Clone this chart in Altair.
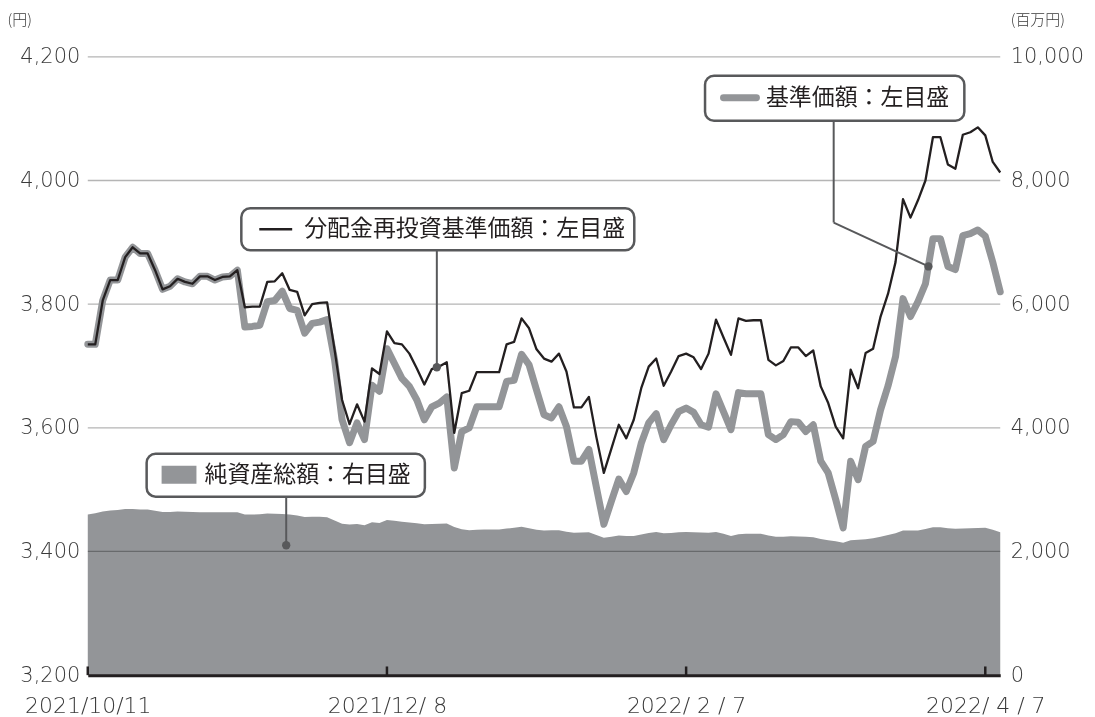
import altair as alt
import pandas as pd

# ---------------- data ----------------
nav_reinvested = [
    3735, 3735, 3806, 3839, 3839, 3876, 3892, 3882, 3882, 3855,
    3824, 3829, 3841, 3836, 3833, 3845, 3845, 3839, 3844, 3845,
    3855, 3795, 3796, 3796, 3836, 3837, 3850, 3823, 3820, 3782,
    3800, 3802, 3803, 3726, 3645, 3606, 3638, 3610, 3696, 3687,
    3756, 3737, 3735, 3720, 3696, 3670, 3695, 3699, 3706, 3592,
    3656, 3660, 3690, 3690, 3690, 3690, 3735, 3739, 3777, 3761,
    3727, 3712, 3707, 3720, 3691, 3633, 3633, 3650, 3585, 3527,
    3566, 3605, 3583, 3613, 3664, 3699, 3712, 3668, 3691, 3716,
    3720, 3714, 3695, 3720, 3775, 3746, 3718, 3777, 3773, 3774,
    3774, 3710, 3701, 3708, 3730, 3730, 3716, 3725, 3667, 3640,
    3602, 3583, 3694, 3664, 3721, 3728, 3780, 3817, 3868, 3970,
    3940, 3968, 4000, 4070, 4070, 4026, 4019, 4074, 4078, 4086,
    4073, 4030, 4013,
]
nav = [
    3735, 3735, 3806, 3839, 3839, 3876, 3892, 3882, 3882, 3855,
    3824, 3829, 3841, 3836, 3833, 3845, 3845, 3839, 3844, 3845,
    3855, 3763, 3764, 3766, 3804, 3806, 3821, 3793, 3790, 3753,
    3769, 3771, 3775, 3710, 3613, 3576, 3608, 3581, 3669, 3659,
    3728, 3704, 3680, 3667, 3645, 3613, 3634, 3640, 3650, 3535,
    3594, 3600, 3634, 3634, 3634, 3634, 3675, 3677, 3719, 3702,
    3661, 3621, 3616, 3634, 3602, 3546, 3546, 3565, 3504, 3444,
    3481, 3517, 3497, 3527, 3575, 3608, 3623, 3581, 3605, 3626,
    3632, 3625, 3605, 3601, 3655, 3626, 3597, 3657, 3655, 3655,
    3655, 3589, 3581, 3589, 3610, 3609, 3594, 3605, 3546, 3527,
    3484, 3438, 3546, 3516, 3570, 3578, 3629, 3668, 3715, 3809,
    3780, 3804, 3833, 3906, 3906, 3861, 3856, 3911, 3914, 3920,
    3910, 3868, 3820,
]
net_assets = [
    2597, 2620, 2645, 2661, 2670, 2688, 2685, 2680, 2677, 2660,
    2640, 2640, 2645, 2642, 2640, 2636, 2636, 2636, 2636, 2636,
    2634, 2600, 2597, 2602, 2615, 2612, 2605, 2600, 2580, 2556,
    2560, 2562, 2555, 2500, 2450, 2435, 2446, 2425, 2472, 2462,
    2510, 2495, 2480, 2470, 2455, 2441, 2445, 2450, 2452, 2395,
    2360, 2344, 2350, 2355, 2355, 2355, 2370, 2385, 2398, 2375,
    2350, 2340, 2342, 2344, 2320, 2302, 2305, 2312, 2265, 2221,
    2240, 2258, 2250, 2250, 2275, 2300, 2315, 2295, 2300, 2312,
    2315, 2310, 2305, 2302, 2315, 2285, 2250, 2280, 2285, 2285,
    2285, 2260, 2237, 2240, 2247, 2244, 2240, 2230, 2200, 2180,
    2165, 2140, 2183, 2190, 2196, 2215, 2237, 2265, 2295, 2340,
    2340, 2340, 2365, 2390, 2392, 2375, 2366, 2372, 2376, 2380,
    2382, 2350, 2312,
]
day_index = list(range(len(nav)))

tick_positions = [0, 40, 80, 120]
tick_labels = ["2021/10/11", "2021/12/ 8", "2022/ 2 / 7", "2022/ 4 / 7"]
left_ticks = [3200, 3400, 3600, 3800, 4000, 4200]
right_ticks = [0, 2000, 4000, 6000, 8000, 10000]

label_reinv = "分配金再投資基準価額：左目盛"
label_nav = "基準価額：左目盛"
label_assets = "純資産総額：右目盛"

# ---------------- styling ----------------
FONT = "Noto Sans CJK JP"
NUMFONT = "DejaVu Sans"
DARK = "#231f20"
GRAY = "#939598"
BOXC = "#58595b"
LABEL = "#3a3a3a"
FS = 21
XFS = 22
BOXFS = 23
TFS = 15

# right axis (million yen, 0..10000) maps linearly onto left axis (3200..4200 yen)
L0, L1 = left_ticks[0], left_ticks[-1]
R0, R1 = right_ticks[0], right_ticks[-1]
ratio = (R1 - R0) / (L1 - L0)

df = pd.DataFrame({"i": day_index, "reinv": nav_reinvested, "nav": nav, "assets": net_assets})

x_scale = alt.Scale(domain=[0, 122], nice=False, zero=False)
yl = alt.Scale(domain=[L0, L1], nice=False, zero=False)

label_expr = " : ".join(
    f"datum.value == {p} ? '{t}'" for p, t in zip(tick_positions, tick_labels)
) + " : ''"

x_axis = alt.Axis(
    values=tick_positions, labelExpr=label_expr, domain=True, domainColor=DARK,
    domainWidth=3, ticks=False, grid=False, labelFont=NUMFONT, labelFontSize=XFS,
    labelFontWeight=300, labelColor=LABEL, labelPadding=20, labelFlush=False,
    labelOverlap=False, title=None, zindex=1,
)
right_axis = alt.Axis(
    orient="right", values=[L0 + (r - R0) / ratio for r in right_ticks],
    labelExpr=f"format((datum.value - {L0}) * {ratio} + {R0}, ',.0f')",
    domain=False, ticks=False, grid=False, labelFont=NUMFONT, labelFontSize=FS,
    labelFontWeight=300, labelColor=LABEL, labelPadding=10, title="(百万円)",
    titleAngle=0, titleX=10, titleY=-37, titleAlign="left", titleBaseline="middle",
    titleFont=FONT, titleFontSize=TFS, titleFontWeight=300, titleColor=LABEL,
)
left_axis = alt.Axis(
    orient="left", values=left_ticks, format=",.0f", domain=False, ticks=False,
    grid=False, labelFont=NUMFONT, labelFontSize=FS, labelFontWeight=300,
    labelColor=LABEL, labelPadding=8, title="(円)", titleAngle=0,
    titleX=-81, titleY=-37, titleAlign="left", titleBaseline="middle",
    titleFont=FONT, titleFontSize=TFS, titleFontWeight=300, titleColor=LABEL,
)

# net assets area (right axis)
area = alt.Chart(df).transform_calculate(
    a_left=f"{L0} + (datum.assets - {R0}) / {ratio}",
    base=f"{L0}",
).mark_area(color=GRAY, opacity=1).encode(
    x=alt.X("i:Q", scale=x_scale, axis=x_axis),
    y=alt.Y("a_left:Q", scale=yl, axis=right_axis),
    y2="base:Q",
)

# gridlines (multiply so they darken over the area)
grid_df = pd.DataFrame({"v": left_ticks[1:], "x0": 0, "x1": 122})
grid = alt.Chart(grid_df).mark_rule(color="#b5b5b5", strokeWidth=1.3, blend="multiply").encode(
    x=alt.X("x0:Q", scale=x_scale, axis=None),
    x2="x1:Q",
    y=alt.Y("v:Q", scale=yl, axis=left_axis),
)

gray_line = alt.Chart(df).mark_line(
    color=GRAY, strokeWidth=7, strokeJoin="round", strokeCap="round"
).encode(
    x=alt.X("i:Q", scale=x_scale, axis=None),
    y=alt.Y("nav:Q", scale=yl, axis=None),
)
black_line = alt.Chart(df).mark_line(color=DARK, strokeWidth=2.3, strokeJoin="round").encode(
    x=alt.X("i:Q", scale=x_scale, axis=None),
    y=alt.Y("reinv:Q", scale=yl, axis=None),
)

# upward tick marks on the x axis
tick_df = pd.DataFrame({"i": tick_positions, "y0": 3200, "y1": 3214})
ticks = alt.Chart(tick_df).mark_rule(color=DARK, strokeWidth=2.5).encode(
    x=alt.X("i:Q", scale=x_scale, axis=None),
    y=alt.Y("y0:Q", scale=yl, axis=None),
    y2="y1:Q",
)

# leader lines + dots
seg_df = pd.DataFrame({
    "x": [46.67, 99.73, 99.73, 26.53],
    "x2": [46.67, 99.73, 112.4, 26.53],
    "y": [3887.0, 4097.0, 3932.0, 3489.0],
    "y2": [3698.0, 3932.0, 3861.0, 3410.0],
})
segs = alt.Chart(seg_df).mark_rule(color=BOXC, strokeWidth=2).encode(
    x=alt.X("x:Q", scale=x_scale, axis=None), x2="x2:Q",
    y=alt.Y("y:Q", scale=yl, axis=None), y2="y2:Q",
)
dot_df = pd.DataFrame({"x": [46.67, 112.4, 26.53], "y": [3698.0, 3861.0, 3410.0]})
dots = alt.Chart(dot_df).mark_circle(color=BOXC, size=70, opacity=1).encode(
    x=alt.X("x:Q", scale=x_scale, axis=None),
    y=alt.Y("y:Q", scale=yl, axis=None),
)

# callout boxes
box_df = pd.DataFrame({
    "x": [20.53, 82.53, 7.87],
    "x2": [73.07, 117.2, 45.07],
    "y": [3955.0, 4169.4, 3558.1],
    "y2": [3887.1, 4096.8, 3488.7],
})
boxes = alt.Chart(box_df).mark_rect(
    fill="white", stroke=BOXC, strokeWidth=2.5, cornerRadius=9
).encode(
    x=alt.X("x:Q", scale=x_scale, axis=None), x2="x2:Q",
    y=alt.Y("y:Q", scale=yl, axis=None), y2="y2:Q",
)

sym_black = alt.Chart(pd.DataFrame({"x": [22.93], "x2": [27.33], "y": [3921.0]})).mark_rule(
    color=DARK, strokeWidth=2.5
).encode(x=alt.X("x:Q", scale=x_scale, axis=None), x2="x2:Q", y=alt.Y("y:Q", scale=yl, axis=None))
sym_gray = alt.Chart(pd.DataFrame({"x": [85.0], "x2": [89.4], "y": [4133.9]})).mark_rule(
    color=GRAY, strokeWidth=7, strokeCap="round"
).encode(x=alt.X("x:Q", scale=x_scale, axis=None), x2="x2:Q", y=alt.Y("y:Q", scale=yl, axis=None))
sym_rect = alt.Chart(pd.DataFrame({"x": [9.87], "x2": [14.53], "y": [3538.7], "y2": [3509.7]})).mark_rect(
    color=GRAY
).encode(x=alt.X("x:Q", scale=x_scale, axis=None), x2="x2:Q",
         y=alt.Y("y:Q", scale=yl, axis=None), y2="y2:Q")

text_df = pd.DataFrame({
    "x": [28.93, 90.67, 15.6],
    "y": [3921.0, 4133.9, 3524.2],
    "t": [label_reinv, label_nav, label_assets],
})
texts = alt.Chart(text_df).mark_text(
    align="left", baseline="middle", font=FONT, fontSize=BOXFS, color=DARK
).encode(
    x=alt.X("x:Q", scale=x_scale, axis=None),
    y=alt.Y("y:Q", scale=yl, axis=None),
    text="t:N",
)

chart = alt.layer(
    area, grid, gray_line, black_line, ticks, segs, dots, boxes,
    sym_black, sym_gray, sym_rect, texts,
).resolve_axis(x="independent", y="independent").properties(
    width=915, height=620,
    autosize=alt.AutoSizeParams(type="none"),
    padding={"left": 80, "top": 48, "right": 87, "bottom": 41},
).configure_view(stroke=None)

chart.save("out.html", embed_options={"renderer": "svg", "actions": False})
